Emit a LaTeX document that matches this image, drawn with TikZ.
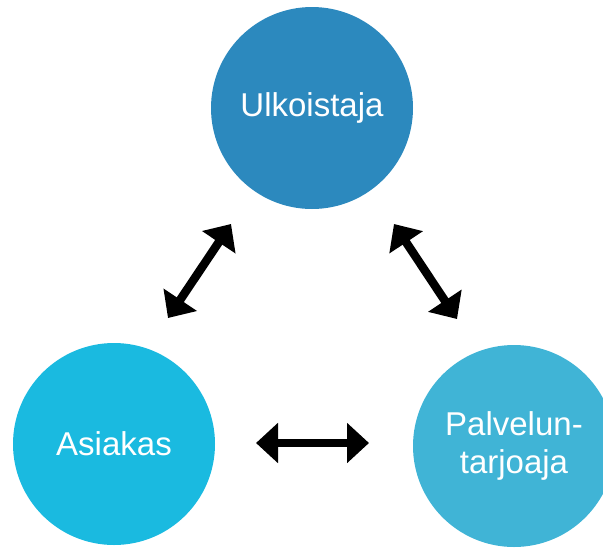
\documentclass[tikz,border=0pt]{standalone}
\usepackage{fontspec}
\setmainfont{Liberation Sans}
\usetikzlibrary{arrows.meta}
\definecolor{topblue}{RGB}{44,137,190}
\definecolor{leftcyan}{RGB}{26,186,224}
\definecolor{rightcyan}{RGB}{64,180,214}
\tikzset{
  party/.style={circle, minimum size=202pt, inner sep=0pt, text=white,
    font=\fontsize{33}{38}\selectfont, align=center},
  link/.style={line width=8.5pt, {Triangle[width=39pt,length=22pt]}-{Triangle[width=39pt,length=22pt]}}
}
\begin{document}
\begin{tikzpicture}[x=1pt,y=-1pt]
  \useasboundingbox (0,0) rectangle (603,547);
  \begin{scope}
    \clip (0,0) rectangle (603,547);
    \node[party, fill=topblue] (ulk) at (312,108) {Ulkoistaja};
    \node[party, fill=leftcyan] (asi) at (114,444) {Asiakas};
    \node[party, fill=rightcyan] (pal) at (514,446) {Palvelun-\\tarjoaja};
  \end{scope}
  \coordinate (l1) at (168,318);
  \coordinate (l2) at (231,224);
  \coordinate (r1) at (394,224);
  \coordinate (r2) at (457,319);
  \coordinate (h1) at (256,443);
  \coordinate (h2) at (369,443);
  \draw[link] (l1) -- (l2);
  \draw[link] (r1) -- (r2);
  \draw[link] (h1) -- (h2);
\end{tikzpicture}
\end{document}
